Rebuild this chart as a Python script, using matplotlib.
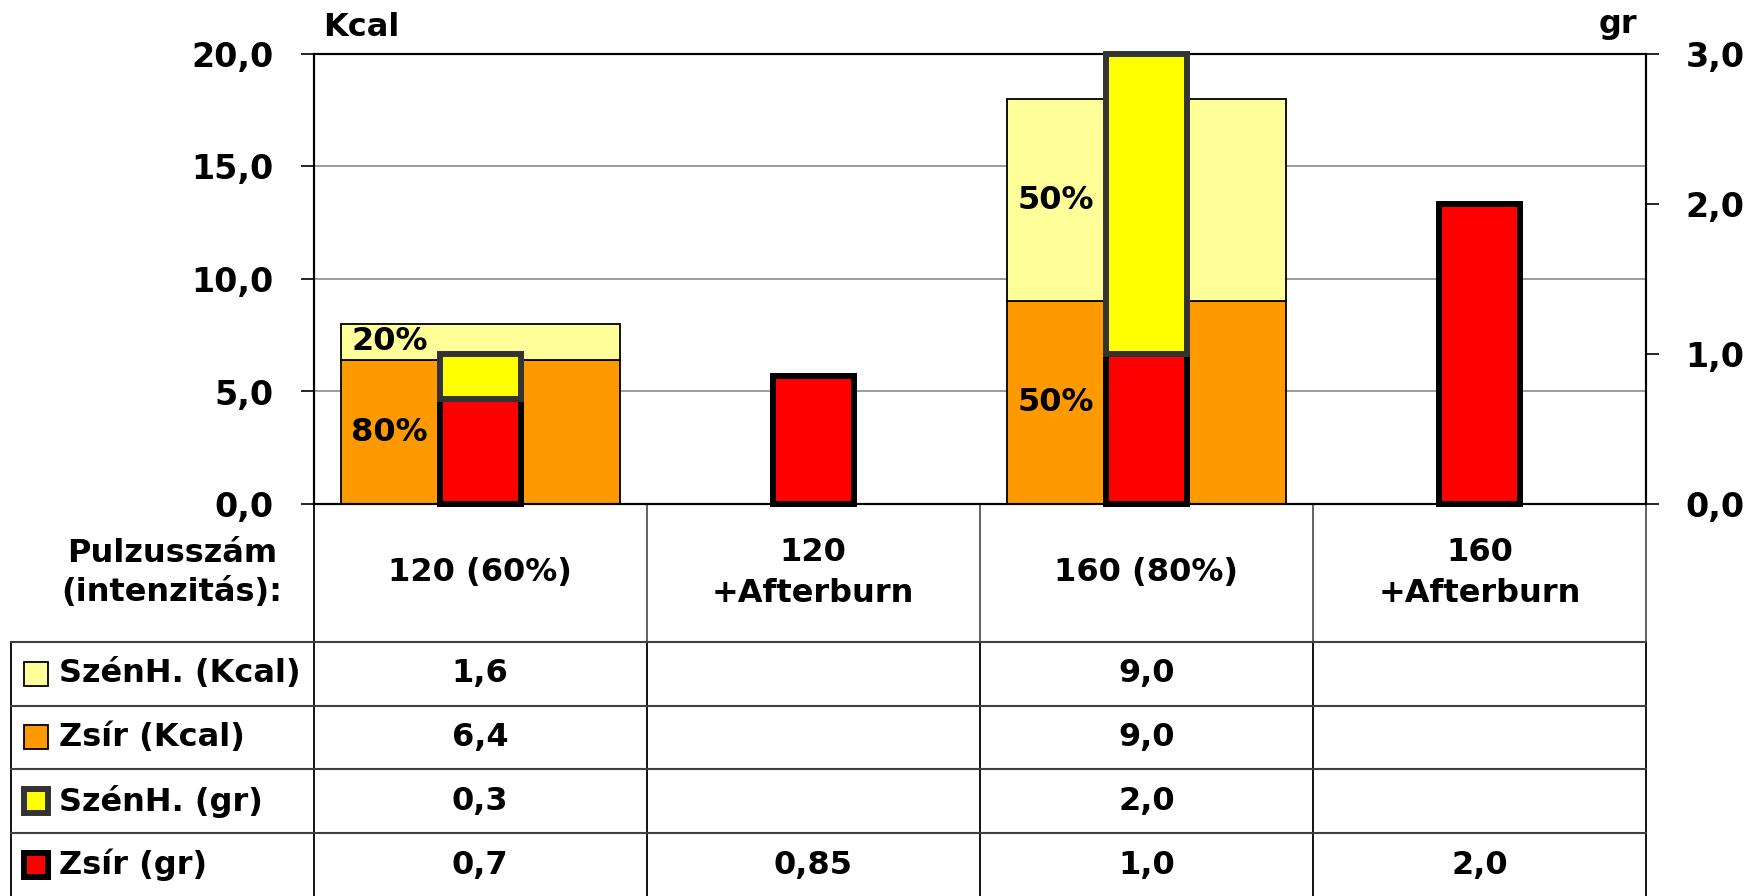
import numpy as np
import matplotlib
matplotlib.use("Agg")
import matplotlib.pyplot as plt
from matplotlib.patches import Rectangle
import matplotlib.transforms as mtrans

# ---------------- data ----------------
categories = ["120 (60%)", "120\n+Afterburn", "160 (80%)", "160\n+Afterburn"]
series_names = ["SzénH. (Kcal)", "Zsír (Kcal)", "SzénH. (gr)", "Zsír (gr)"]
carb_kcal = [1.6, np.nan, 9.0, np.nan]
fat_kcal = [6.4, np.nan, 9.0, np.nan]
carb_gr = [0.3, np.nan, 2.0, np.nan]
fat_gr = [0.7, 0.85, 1.0, 2.0]
kcal_ticks = [0, 5, 10, 15, 20]
gr_ticks = [0, 1, 2, 3]
header_label = "Pulzusszám\n(intenzitás):"
left_unit = "Kcal"
right_unit = "gr"

# ---------------- style ----------------
plt.rcParams['font.family'] = ['DejaVu Sans']
plt.rcParams['font.weight'] = 'bold'
C_CARB_K = '#FFFF99'
C_FAT_K = '#FF9900'
C_CARB_G = '#FFFF00'
C_FAT_G = '#FF0000'
E_CARB_G = '#333333'
E_FAT_G = '#000000'
FS = 23

def fmt(v):
    s = f"{v:.1f}" if abs(round(v, 1) - v) < 1e-9 else f"{v:.2f}"
    return s.replace('.', ',')

W, H = 1756, 896
fig = plt.figure(figsize=(W / 100, H / 100), dpi=100)
L, R, T, B = 313.6, 1646, 54, 504

# overlay in pixel coords for table
ov = fig.add_axes([0, 0, 1, 1], zorder=0)
ov.set_xlim(0, W)
ov.set_ylim(H, 0)
ov.axis('off')

ax = fig.add_axes([L / W, 1 - B / H, (R - L) / W, (B - T) / H], zorder=2)
x = np.arange(len(categories))
ax.set_xlim(-0.5, len(categories) - 0.5)
ax.set_ylim(0, 20)

fat_k = np.array(fat_kcal)
carb_k = np.array(carb_kcal)
mk = ~np.isnan(fat_k)
wide = 0.837
ax.bar(x[mk], fat_k[mk], width=wide, color=C_FAT_K, edgecolor='black', linewidth=1.3, zorder=2)
ax.bar(x[mk], carb_k[mk], bottom=fat_k[mk], width=wide, color=C_CARB_K, edgecolor='black',
       linewidth=1.3, zorder=2)

# percentage labels
for xi, c, f in zip(x[mk], carb_k[mk], fat_k[mk]):
    tot = c + f
    ax.text(xi - 0.272, f + c / 2, f"{round(100 * c / tot):d}%", ha='center', va='center',
            fontsize=FS, fontweight='bold', zorder=3)
    ax.text(xi - 0.272, f / 2, f"{round(100 * f / tot):d}%", ha='center', va='center',
            fontsize=FS, fontweight='bold', zorder=3)

ax.set_yticks(kcal_ticks)
ax.set_yticklabels([fmt(v) for v in kcal_ticks])
ax.set_xticks([])
ax.tick_params(axis='y', direction='out', length=9.6, width=1.2, pad=19, labelsize=24)
ax.yaxis.grid(True, color='#808080', linewidth=1.1)
ax.set_axisbelow(True)
for s in ax.spines.values():
    s.set_linewidth(1.5)
    s.set_color('black')

ax2 = ax.twinx()
ax2.set_ylim(0, 3)
fat_g = np.array(fat_gr)
carb_g = np.array(carb_gr)
narrow = 0.243
mg = ~np.isnan(fat_g)
ax2.bar(x[mg], fat_g[mg], width=narrow, color=C_FAT_G, edgecolor=E_FAT_G, linewidth=4.3,
        clip_on=False, zorder=3)
mc = ~np.isnan(carb_g)
ax2.bar(x[mc], carb_g[mc], bottom=fat_g[mc], width=narrow, color=C_CARB_G, edgecolor=E_CARB_G,
        linewidth=4.3, clip_on=False, zorder=4)
ax2.set_yticks(gr_ticks)
ax2.set_yticklabels([fmt(v) for v in gr_ticks])
ax2.tick_params(axis='y', direction='out', length=9.6, width=1.2, pad=19, labelsize=24)
for s in ax2.spines.values():
    s.set_linewidth(1.5)
    s.set_color('black')

# unit labels
ov.text(323, 27, left_unit, ha='left', va='center', fontsize=FS, fontweight='bold')
ov.text(1637, 25, right_unit, ha='right', va='center', fontsize=FS, fontweight='bold')

# ---------------- data table ----------------
trans = mtrans.blended_transform_factory(ax.transData, ov.transData)
row_lines = [641.7, 705.7, 769.3, 833.3, 897.0]
row_centers = [(a + b) / 2 for a, b in zip(row_lines[:-1], row_lines[1:])]
bounds = np.arange(len(categories) + 1) - 0.5

# vertical lines
for i, bx in enumerate(bounds):
    col_head = 'black' if i == 0 else '#555555'
    ov.plot([bx, bx], [B, row_lines[0]], color=col_head, lw=1.3, transform=trans, clip_on=False)
    ov.plot([bx, bx], [row_lines[0], H], color='black', lw=1.3, transform=trans, clip_on=False)
ov.plot([11.5, 11.5], [row_lines[0], H], color='black', lw=1.3)
# horizontal lines
for y in row_lines[:-1]:
    ov.plot([11.5, R], [y, y], color='#404040', lw=1.5)

# header row
ov.text(172, 573, header_label, ha='center', va='center', fontsize=FS, fontweight='bold',
        linespacing=1.3)
for xi, cat in zip(x, categories):
    ov.text(xi, 573, cat, ha='center', va='center', fontsize=FS, fontweight='bold',
            linespacing=1.4, transform=trans)

# series rows
series_vals = [carb_kcal, fat_kcal, carb_gr, fat_gr]
marker_face = [C_CARB_K, C_FAT_K, C_CARB_G, C_FAT_G]
marker_edge = ['black', 'black', E_CARB_G, E_FAT_G]
marker_lw = [1.3, 1.3, 4.3, 4.3]
for name, vals, fc, ec, lw, yc in zip(series_names, series_vals, marker_face, marker_edge,
                                       marker_lw, row_centers):
    ov.add_patch(Rectangle((36.5 - 12, yc - 12), 24, 24, facecolor=fc, edgecolor=ec, lw=lw))
    ov.text(59, yc, name, ha='left', va='center', fontsize=FS, fontweight='bold')
    for xi, v in zip(x, vals):
        if not np.isnan(v):
            ov.text(xi, yc, fmt(v), ha='center', va='center', fontsize=FS, fontweight='bold',
                    transform=trans)

fig.savefig("out.png", dpi=100)
